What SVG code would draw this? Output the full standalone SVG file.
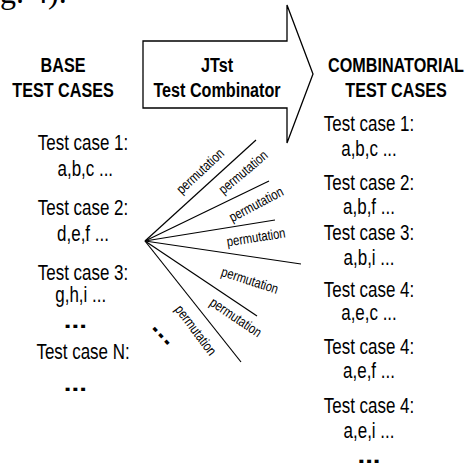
<svg xmlns="http://www.w3.org/2000/svg" width="471" height="476" viewBox="0 0 471 476">
<style>
text{font-family:"Liberation Sans",Arial,sans-serif;fill:#000}
.h{font-size:21px;font-weight:bold;text-anchor:middle}
.t{font-size:22px;text-anchor:middle}
.d{font-size:22px;font-weight:bold;text-anchor:middle}
.p{font-size:14px;text-anchor:middle}
.ln{stroke:#000;stroke-width:1.2;fill:none}
</style>
<rect width="471" height="476" fill="#fff"/>
<text x="0" y="3" style="font-family:'Liberation Serif',serif;font-size:32px">g. 4).</text>
<g id="base">
  <g transform="translate(63,0) scale(0.77,1)">
    <text class="h" x="0" y="72">BASE</text>
    <text class="h" x="0" y="97">TEST CASES</text>
  </g>
  <g transform="translate(83,0) scale(0.77,1)">
    <text class="t" x="0" y="150">Test case 1:</text>
    <text class="t" x="3" y="176">a,b,c ...</text>
    <text class="t" x="0" y="215">Test case 2:</text>
    <text class="t" x="0" y="241">d,e,f ...</text>
    <text class="t" x="0" y="280">Test case 3:</text>
    <text class="t" x="-3" y="302">g,h,i ...</text>
    <text class="d" x="-10" y="328" textLength="30" lengthAdjust="spacingAndGlyphs">...</text>
    <text class="t" x="0" y="359">Test case N:</text>
    <text class="d" x="-10" y="391" textLength="30" lengthAdjust="spacingAndGlyphs">...</text>
  </g>
</g>
<g id="combinator">
  <polygon points="143,41 287,41 287,5 313,74 287,143 287,108 143,108" fill="#fff" stroke="#000" stroke-width="1.3" stroke-linejoin="miter"/>
  <g transform="translate(217,0) scale(0.77,1)">
    <text class="h" x="0" y="72">JTst</text>
    <text class="h" x="0" y="97">Test Combinator</text>
  </g>
</g>
<g id="combinatorial">
  <g transform="translate(396,0) scale(0.77,1)">
    <text class="h" x="0" y="72">COMBINATORIAL</text>
    <text class="h" x="0" y="97">TEST CASES</text>
  </g>
  <g transform="translate(369,0) scale(0.77,1)">
    <text class="t" x="0" y="131">Test case 1:</text>
    <text class="t" x="0" y="156">a,b,c ...</text>
    <text class="t" x="0" y="190">Test case 2:</text>
    <text class="t" x="0" y="214">a,b,f ...</text>
    <text class="t" x="0" y="240">Test case 3:</text>
    <text class="t" x="0" y="265">a,b,i ...</text>
    <text class="t" x="0" y="297">Test case 4:</text>
    <text class="t" x="0" y="320">a,e,c ...</text>
    <text class="t" x="0" y="354">Test case 4:</text>
    <text class="t" x="0" y="378">a,e,f ...</text>
    <text class="t" x="0" y="413">Test case 4:</text>
    <text class="t" x="0" y="438">a,e,i ...</text>
    <text class="d" x="0" y="463" textLength="30" lengthAdjust="spacingAndGlyphs">...</text>
  </g>
</g>
<g id="connectors">
  <line class="ln" x1="145" y1="241" x2="256" y2="140"/>
  <line class="ln" x1="145" y1="241" x2="269" y2="181"/>
  <line class="ln" x1="145" y1="241" x2="275" y2="220"/>
  <line class="ln" x1="145" y1="241" x2="301" y2="264"/>
  <line class="ln" x1="145" y1="241" x2="257" y2="316"/>
  <line class="ln" x1="145" y1="241" x2="241" y2="362"/>
  <text class="p" transform="translate(200,171) rotate(-43) scale(0.8,1)" y="5">permutation</text>
  <text class="p" transform="translate(243,172) rotate(-40) scale(0.8,1)" y="5">permutation</text>
  <text class="p" transform="translate(256,204) rotate(-28) scale(0.8,1)" y="5">permutation</text>
  <text class="p" transform="translate(256,237) rotate(-9) scale(0.8,1)" y="5">permutation</text>
  <text class="p" transform="translate(250,280) rotate(18) scale(0.8,1)" y="5">permutation</text>
  <text class="p" transform="translate(236,317) rotate(34) scale(0.8,1)" y="5">permutation</text>
  <text class="p" transform="translate(196,330) rotate(53) scale(0.8,1)" y="5">permutation</text>
  <text class="d" transform="translate(162,335) rotate(47)" y="3" textLength="26" lengthAdjust="spacingAndGlyphs">...</text>
</g>
</svg>
